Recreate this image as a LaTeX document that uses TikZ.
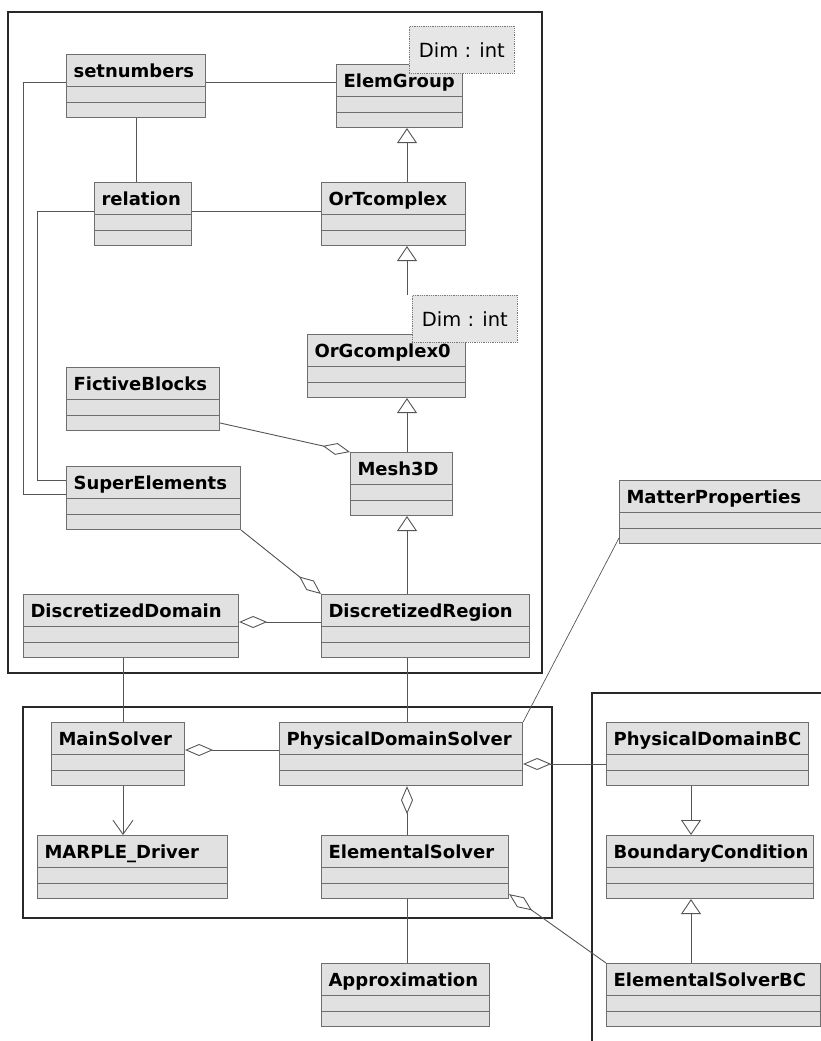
\documentclass[tikz,border=0pt]{standalone}
\usepackage{fontspec}
\setmainfont{DejaVu Sans}
\usetikzlibrary{arrows.meta}
\definecolor{boxfill}{RGB}{225,225,225}
\definecolor{boxline}{RGB}{110,110,110}
\definecolor{linkcol}{RGB}{85,85,85}
\definecolor{framecol}{RGB}{40,40,40}
\definecolor{notefill}{RGB}{230,230,230}
\definecolor{notedot}{RGB}{120,120,120}

\begin{document}
\begin{tikzpicture}[x=1pt,y=-1pt,
    classbox/.code={\pgfmathsetmacro\clsw{#1-14}%
      \pgfkeysalso{draw=boxline, fill=boxfill, line width=1.1pt, anchor=north west,
        inner xsep=7pt, inner ysep=0pt, text width=\clsw pt, align=left,
        text height=22.5pt, text depth=40.5pt,
        font=\bfseries\fontsize{18}{20}\selectfont,
        path picture={\draw[boxline,line width=1.1pt]
          ([yshift=-32pt]path picture bounding box.north west) -- ([yshift=-32pt]path picture bounding box.north east)
          ([yshift=-48pt]path picture bounding box.north west) -- ([yshift=-48pt]path picture bounding box.north east);}}},
    dimnote/.style={draw=notedot, densely dotted, fill=notefill, line width=0.8pt, anchor=north west,
      minimum width=105pt, minimum height=47pt, inner sep=0pt, font=\fontsize{19.5}{22}\selectfont},
    assoc/.style={draw=linkcol, line width=0.9pt},
    inherit/.style={assoc, -{Triangle[open, length=15pt, width=20pt]}},
    aggr/.style={assoc, -{Diamond[open, length=28pt, width=12pt]}},
    navig/.style={assoc, -{Straight Barb[length=14pt, width=20pt]}},
    pkgframe/.style={draw=framecol, line width=1.4pt}]
  \useasboundingbox (0,0) rectangle (821,1041);
  \clip (0,0) rectangle (821,1041);
  \draw[pkgframe] (8,12) rectangle (542,673)
                  (23,707) rectangle (552,918)
                  (592,693) rectangle (850,1070);

  \node[classbox=139] (setn) at (66,54) {setnumbers};
  \node[classbox=126] (elem) at (336,64) {ElemGroup};
  \node[classbox=97]  (rel)  at (94,182) {relation};
  \node[classbox=144] (ortc) at (321,182) {OrTcomplex};
  \node[classbox=158] (orgc) at (307,334) {OrGcomplex0};
  \node[classbox=153] (fict) at (66,367) {FictiveBlocks};
  \node[classbox=102] (mesh) at (350,452) {Mesh3D};
  \node[classbox=174] (supe) at (66,466) {SuperElements};
  \node[classbox=215] (ddom) at (23,594) {DiscretizedDomain};
  \node[classbox=208] (dreg) at (321,594) {DiscretizedRegion};
  \node[classbox=210] (matt) at (619,480) {MatterProperties};
  \node[classbox=133] (msol) at (51,722) {MainSolver};
  \node[classbox=243] (pds)  at (279,722) {PhysicalDomainSolver};
  \node[classbox=202] (pdbc) at (606,722) {PhysicalDomainBC};
  \node[classbox=190] (marp) at (37,835) {MARPLE\_Driver};
  \node[classbox=187] (esol) at (321,835) {ElementalSolver};
  \node[classbox=207] (bcon) at (606,835) {BoundaryCondition};
  \node[classbox=168] (appr) at (321,963) {Approximation};
  \node[classbox=214] (esbc) at (606,963) {ElementalSolverBC};

  \node[dimnote] (dimone) at (409,26) {Dim : int};
  \node[dimnote] (dimtwo) at (412,295) {Dim : int};

  \coordinate (spine) at (407,0);
  \coordinate (leftcol) at (123,0);
  \coordinate (bccol) at (691,0);

  \draw[assoc] ([yshift=-28pt]setn.north east) -- ([yshift=-28pt]setn.north east -| elem.west);
  \draw[assoc] ([yshift=-28pt]setn.north west) -- ++(-43,0) |- ([yshift=-28pt]supe.north west);
  \draw[assoc] ([yshift=-29pt]rel.north west) -- ++(-57,0) |- ([yshift=-14pt]supe.north west);
  \draw[assoc] (setn.south) -- (setn.south |- rel.north);
  \draw[assoc] ([yshift=-29pt]rel.north east) -- ([yshift=-29pt]rel.north east -| ortc.west);
  \draw[inherit] (spine |- ortc.north) -- (spine |- elem.south);
  \draw[inherit] (spine |- dimtwo.north) -- (spine |- ortc.south);
  \draw[inherit] (spine |- mesh.north) -- (spine |- orgc.south);
  \draw[inherit] (spine |- dreg.north) -- (spine |- mesh.south);
  \draw[aggr] ([yshift=-56pt]fict.north east) -- (mesh.north west);
  \draw[aggr] (supe.south east) -- (dreg.north west);
  \draw[aggr] ([yshift=-28pt]dreg.north west) -- ([yshift=-28pt]dreg.north west -| ddom.east);
  \draw[assoc] (leftcol |- ddom.south) -- (leftcol |- msol.north);
  \draw[assoc] (spine |- dreg.south) -- (spine |- pds.north);
  \draw[assoc, line width=0.7pt] ([yshift=-58pt]matt.north west) -- (pds.north east);
  \draw[aggr] ([yshift=-28pt]pds.north west) -- ([yshift=-28pt]pds.north west -| msol.east);
  \draw[navig] (leftcol |- msol.south) -- (leftcol |- marp.north);
  \draw[aggr] (spine |- esol.north) -- (spine |- pds.south);
  \draw[assoc] (spine |- esol.south) -- (spine |- appr.north);
  \draw[aggr] ([yshift=-42pt]pdbc.north west) -- ([yshift=-42pt]pdbc.north west -| pds.east);
  \draw[inherit] (bccol |- pdbc.south) -- (bccol |- bcon.north);
  \draw[inherit] (bccol |- esbc.north) -- (bccol |- bcon.south);
  \draw[aggr] (esbc.north west) -- ([yshift=5pt]esol.south east);
\end{tikzpicture}
\end{document}
